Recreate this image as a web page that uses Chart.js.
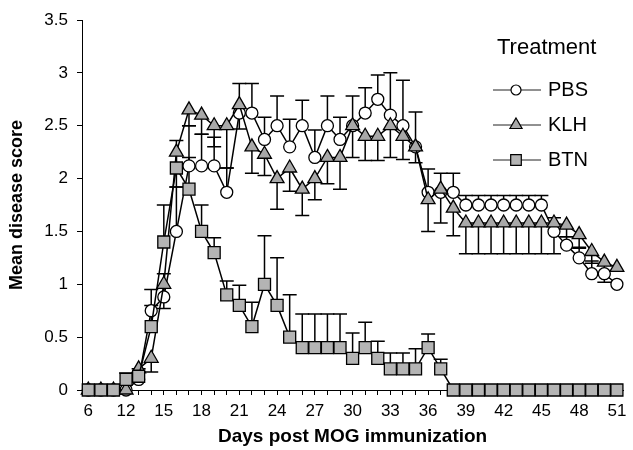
<!DOCTYPE html>
<html>
<head>
<meta charset="utf-8">
<script src="https://cdn.jsdelivr.net/npm/chart.js@4.4.0/dist/chart.umd.min.js"></script>
<style>
  html, body { margin: 0; padding: 0; background: #fff; }
  #wrap { position: relative; width: 633px; height: 450px; }
</style>
</head>
<body>
<div id="wrap"><canvas id="chart"></canvas></div>
<script>
// days post immunization (only every third one is labelled on the axis)
const days = ['6', '8', '10', '12', '13', '14', '15', '16', '17', '18', '19', '20', '21', '22',
  '23', '24', '25', '26', '27', '28', '29', '30', '31', '32', '33', '34', '35', '36', '37',
  '38', '39', '40', '41', '42', '43', '44', '45', '46', '47', '48', '49', '50', '51'];

const pbs = [0, 0, 0, 0, 0.1, 0.75, 0.88, 1.5, 2.12, 2.12, 2.12, 1.87, 2.62, 2.62,
  2.37, 2.5, 2.3, 2.5, 2.2, 2.5, 2.37, 2.5, 2.62, 2.75, 2.6, 2.5, 2.3, 1.87, 1.87,
  1.87, 1.75, 1.75, 1.75, 1.75, 1.75, 1.75, 1.75, 1.5, 1.37, 1.25, 1.1, 1.1, 1.0];
const klh = [0, 0, 0, 0, 0.2, 0.3, 1.0, 2.25, 2.65, 2.6, 2.5, 2.5, 2.7, 2.3,
  2.23, 2.0, 2.1, 1.9, 2.0, 2.2, 2.2, 2.5, 2.4, 2.4, 2.5, 2.4, 2.3, 1.8, 1.9,
  1.72, 1.58, 1.58, 1.58, 1.58, 1.58, 1.58, 1.58, 1.58, 1.56, 1.47, 1.31, 1.21, 1.16];
const btn = [0, 0, 0, 0.1, 0.13, 0.6, 1.4, 2.1, 1.9, 1.5, 1.3, 0.9, 0.8, 0.6,
  1.0, 0.8, 0.5, 0.4, 0.4, 0.4, 0.4, 0.3, 0.4, 0.3, 0.2, 0.2, 0.2, 0.4, 0.2,
  0, 0, 0, 0, 0, 0, 0, 0, 0, 0, 0, 0, 0, 0];

// end value of each error bar (PBS and BTN go up, KLH goes down)
const pbsErrEnd = [null, null, null, null, null, 0.95, 1.1, 1.92, 2.5, 2.42, 2.39, 2.1, 2.9, 2.9,
  2.58, 2.78, 2.56, 2.74, 2.46, 2.78, 2.58, 2.78, 2.86, 2.98, 3.0, 2.93, 2.63, 2.09, 2.05,
  2.05, 1.84, 1.84, 1.84, 1.84, 1.84, 1.84, 1.84, 1.63, 1.45, 1.34, 1.22, null, null];
const klhErrEnd = [null, null, null, null, null, 0.17, 0.77, 1.92, 2.5, 2.42, 2.3, 2.1, 2.47, 2.05,
  2.03, 1.71, 1.88, 1.65, 1.8, 1.95, 1.9, 2.2, 2.17, 2.17, 2.2, 2.18, 2.15, 1.5, 1.58,
  1.46, 1.29, 1.29, 1.29, 1.29, 1.29, 1.29, 1.29, 1.29, 1.45, 1.35, 1.2, 1.02, null];
const btnErrEnd = [null, null, null, 0.16, 0.2, 0.8, 1.75, 2.36, 2.2, 1.75, 1.44, 1.03, 0.99, 0.83,
  1.46, 1.25, 0.9, 0.72, 0.72, 0.72, 0.72, 0.54, 0.64, 0.46, 0.35, 0.35, 0.39, 0.53, 0.29,
  null, null, null, null, null, null, null, null, null, null, null, null, null, null];

Chart.defaults.font.family = "'Liberation Sans', Arial, sans-serif";
Chart.defaults.color = '#000';

const errorBars = {
  id: 'errorBars',
  beforeDatasetsDraw(chart) {
    const { ctx, scales: { x, y } } = chart;
    ctx.save();
    ctx.strokeStyle = '#000';
    ctx.lineWidth = 1.5;
    chart.data.datasets.forEach(ds => {
      ds.errEnd.forEach((end, i) => {
        if (end == null) return;
        const px = x.getPixelForValue(i);
        const y0 = y.getPixelForValue(ds.data[i]);
        const y1 = y.getPixelForValue(end);
        ctx.beginPath();
        ctx.moveTo(px, y0);
        ctx.lineTo(px, y1);
        ctx.moveTo(px - 7, y1);
        ctx.lineTo(px + 7, y1);
        ctx.stroke();
      });
    });
    ctx.restore();
  }
};

// legend drawn in the top right corner of the plot, as in the figure
const sideLegend = {
  id: 'sideLegend',
  afterDraw(chart) {
    const ctx = chart.ctx;
    ctx.save();
    ctx.textBaseline = 'middle';
    ctx.fillStyle = '#000';
    ctx.font = "22px 'Liberation Sans', Arial, sans-serif";
    ctx.fillText('Treatment', 497, 48);
    ctx.font = "20px 'Liberation Sans', Arial, sans-serif";
    chart.data.datasets.forEach((ds, i) => {
      const cy = 90 + i * 35;
      ctx.strokeStyle = '#222';
      ctx.lineWidth = 1;
      ctx.beginPath();
      ctx.moveTo(493, cy);
      ctx.lineTo(541, cy);
      ctx.stroke();
      ctx.fillStyle = ds.pointBackgroundColor;
      ctx.strokeStyle = '#000';
      ctx.lineWidth = 1.2;
      Chart.helpers.drawPoint(ctx, {
        pointStyle: ds.pointStyle,
        radius: ds.pointRadius - 1,
        rotation: 0,
        borderWidth: 1.2
      }, 516, cy);
      ctx.fillStyle = '#000';
      ctx.fillText(ds.label, 548, cy);
    });
    ctx.restore();
  }
};

const axisGrid = { display: true, drawOnChartArea: false, drawTicks: true, tickLength: 5, color: '#000', lineWidth: 1 };

new Chart(document.getElementById('chart'), {
  type: 'line',
  data: {
    labels: days,
    datasets: [
      {
        label: 'PBS', data: pbs, errEnd: pbsErrEnd, order: 3,
        borderColor: '#000', borderWidth: 1.5, tension: 0, clip: false,
        pointStyle: 'circle', pointRadius: 6, pointBackgroundColor: '#fff',
        pointBorderColor: '#000', pointBorderWidth: 1.3
      },
      {
        label: 'KLH', data: klh, errEnd: klhErrEnd, order: 2,
        borderColor: '#000', borderWidth: 1.5, tension: 0, clip: false,
        pointStyle: 'triangle', pointRadius: 8, pointBackgroundColor: '#a8a8a8',
        pointBorderColor: '#000', pointBorderWidth: 1.3
      },
      {
        label: 'BTN', data: btn, errEnd: btnErrEnd, order: 1,
        borderColor: '#000', borderWidth: 1.5, tension: 0, clip: false,
        pointStyle: 'rect', pointRadius: 8.5, pointBackgroundColor: '#b4b4b4',
        pointBorderColor: '#000', pointBorderWidth: 1.3
      }
    ]
  },
  options: {
    responsive: true,
    maintainAspectRatio: false,
    animation: false,
    layout: { padding: { left: 0, right: 4, top: 20, bottom: 0 } },
    plugins: { legend: { display: false }, tooltip: { enabled: false } },
    scales: {
      x: {
        offset: true,
        grid: axisGrid,
        border: { color: '#000', width: 1 },
        ticks: {
          autoSkip: false, maxRotation: 0, padding: 6,
          font: { size: 17 },
          callback: (v, i) => i % 3 === 0 ? days[i] : ''
        },
        title: {
          display: true, text: 'Days post MOG immunization',
          font: { size: 19, weight: 'bold' }, padding: { top: 0, bottom: 2 }
        },
        afterFit: s => { s.height = 60; }
      },
      y: {
        min: 0, max: 3.5,
        grid: axisGrid,
        border: { color: '#000', width: 1 },
        ticks: { stepSize: 0.5, padding: 9, font: { size: 17 }, callback: v => String(v) },
        title: {
          display: true, text: 'Mean disease score',
          font: { size: 18, weight: 'bold' }, padding: { top: 6, bottom: 0 }
        },
        afterFit: s => { s.width = 82; }
      }
    }
  },
  plugins: [errorBars, sideLegend]
});
</script>
</body>
</html>
